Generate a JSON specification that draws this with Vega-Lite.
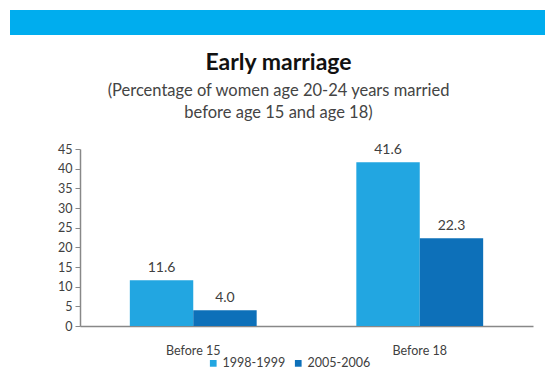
{
  "$schema": "https://vega.github.io/schema/vega-lite/v6.json",
  "padding": {"left": 10, "top": 10, "right": 0, "bottom": 0},
  "background": "white",
  "spacing": 16,
  "vconcat": [
    {
      "width": 535,
      "height": 25,
      "view": {"fill": "#00adee", "stroke": null},
      "data": {"values": [{}]},
      "mark": {"type": "point", "opacity": 0},
      "encoding": {}
    },
    {
      "spacing": 0,
      "hconcat": [
        {
          "width": 42,
          "height": 10,
          "data": {"values": [{}]},
          "mark": {"type": "point", "opacity": 0},
          "encoding": {}
        },
        {
          "width": 453,
          "height": 177,
          "title": {
            "text": "Early marriage",
            "subtitle": ["(Percentage of women age 20-24 years married", "before age 15 and age 18)"],
            "anchor": "middle",
            "frame": "bounds",
            "dx": -14,
            "fontSize": 23,
            "fontWeight": "bold",
            "font": "Lato",
            "color": "#111111",
            "subtitleFont": "Lato",
            "subtitleFontSize": 16.5,
            "subtitleColor": "#444444",
            "subtitlePadding": 8,
            "subtitleLineHeight": 22,
            "offset": 22
          },
          "data": {
            "values": [
              {"age": "Before 15", "period": "1998-1999", "value": 11.6},
              {"age": "Before 15", "period": "2005-2006", "value": 4.0},
              {"age": "Before 18", "period": "1998-1999", "value": 41.6},
              {"age": "Before 18", "period": "2005-2006", "value": 22.3}
            ]
          },
          "encoding": {
            "x": {
              "field": "age",
              "type": "nominal",
              "scale": {"paddingInner": 0.44, "paddingOuter": 0.22},
              "axis": {
                "title": null,
                "labelAngle": 0,
                "ticks": false,
                "labelPadding": 18,
                "labelFont": "Lato",
                "labelFontSize": 12.5,
                "labelColor": "#404040",
                "domainColor": "#888888",
                "domainWidth": 1.5
              }
            },
            "xOffset": {"field": "period", "type": "nominal", "scale": {"paddingInner": 0, "paddingOuter": 0}},
            "y": {
              "field": "value",
              "type": "quantitative",
              "scale": {"domain": [0, 45], "nice": false},
              "axis": {
                "title": null,
                "values": [0, 5, 10, 15, 20, 25, 30, 35, 40, 45],
                "labelOverlap": false,
                "grid": false,
                "tickSize": 5,
                "tickColor": "#888888",
                "domainColor": "#888888",
                "domainWidth": 1.5,
                "labelFont": "Lato",
                "labelFontSize": 12.5,
                "labelColor": "#404040",
                "labelPadding": 3,
                "minExtent": 28
              }
            }
          },
          "layer": [
            {
              "mark": {"type": "bar"},
              "encoding": {
                "color": {
                  "field": "period",
                  "type": "nominal",
                  "scale": {"domain": ["1998-1999", "2005-2006"], "range": ["#22a6e1", "#0d70b9"]},
                  "legend": {
                    "title": null,
                    "orient": "none",
                    "direction": "horizontal",
                    "legendX": 197,
                    "legendY": 347,
                    "symbolType": "square",
                    "symbolSize": 45,
                    "labelFont": "Lato",
                    "labelFontSize": 12.5,
                    "labelColor": "#404040",
                    "columnPadding": 6,
                    "labelOffset": 3
                  }
                }
              }
            },
            {
              "mark": {"type": "text", "dy": -12, "font": "Lato", "fontSize": 14, "color": "#404040"},
              "encoding": {
                "text": {"field": "value", "type": "quantitative", "format": ".1f"}
              }
            }
          ]
        }
      ]
    }
  ],
  "config": {
    "view": {"stroke": null}
  }
}
